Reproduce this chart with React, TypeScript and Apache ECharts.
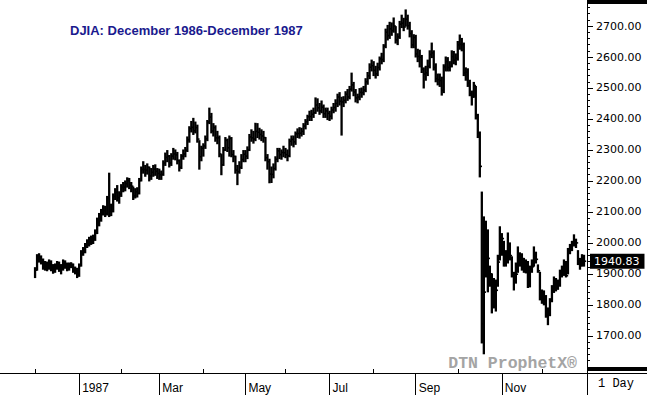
import React, { useEffect, useRef } from 'react';
import * as echarts from 'echarts';

// Exchange holidays (no trading bar)
const holidays = ['1986-12-25', '1987-01-01', '1987-02-16', '1987-04-17', '1987-05-25', '1987-07-03', '1987-09-07', '1987-11-26', '1987-12-25'];

// Daily highs, Dec 1 1986 .. Dec 31 1987 (275 trading days)
const highs = [
  // Dec 1986
  1920, 1962, 1965, 1958, 1948, 1940, 1938, 1945, 1942, 1930, 1932, 1940, 1938, 1930, 1945, 1942, 1935, 1935, 1936, 1932, 1922, 1918,
  // Jan
  1932, 1975, 1985, 1998, 2010, 2018, 2022, 2025, 2042, 2080, 2095, 2108, 2120, 2118, 2150, 2225, 2125, 2158, 2175, 2185, 2165,
  // Feb
  2188, 2195, 2200, 2210, 2208, 2195, 2180, 2175, 2178, 2208, 2245, 2262, 2250, 2255, 2245, 2240, 2250, 2252, 2240,
  // Mar
  2238, 2232, 2265, 2290, 2298, 2282, 2288, 2305, 2300, 2292, 2268, 2285, 2300, 2308, 2342, 2375, 2392, 2402, 2390, 2380, 2330, 2312,
  // Apr
  2320, 2345, 2395, 2435, 2418, 2385, 2378, 2360, 2345, 2285, 2308, 2340, 2335, 2345, 2340, 2298, 2280, 2250, 2262, 2285, 2298,
  // May
  2298, 2310, 2350, 2365, 2360, 2386, 2385, 2370, 2365, 2360, 2340, 2285, 2270, 2245, 2255, 2278, 2305, 2305, 2300, 2312,
  // Jun
  2305, 2300, 2335, 2345, 2345, 2358, 2368, 2372, 2370, 2385, 2398, 2412, 2425, 2428, 2435, 2468, 2465, 2450, 2458, 2445, 2435, 2435,
  // Jul
  2425, 2438, 2450, 2462, 2480, 2485, 2470, 2472, 2488, 2495, 2505, 2548, 2518, 2495, 2480, 2498, 2500, 2505, 2530, 2550, 2578, 2590,
  // Aug
  2585, 2570, 2580, 2600, 2612, 2640, 2690, 2702, 2712, 2710, 2726, 2698, 2675, 2715, 2735, 2725, 2752, 2735, 2712, 2685, 2672,
  // Sep
  2670, 2625, 2622, 2605, 2565, 2570, 2590, 2620, 2645, 2620, 2578, 2545, 2545, 2535, 2575, 2600, 2598, 2585, 2620, 2618, 2610,
  // Oct
  2650, 2671, 2660, 2645, 2565, 2562, 2525, 2490, 2518, 2505, 2415, 2358, 2164, 2084, 2070, 2042, 1925, 1900, 1885, 1880, 1960, 2052,
  // Nov
  2030, 2005, 1975, 2032, 2000, 1955, 1905, 1935, 1987, 1968, 1965, 1950, 1945, 1940, 1925, 1945, 1987, 1970, 1929, 1905,
  // Dec
  1848, 1845, 1830, 1790, 1820, 1862, 1890, 1885, 1880, 1912, 1925, 1945, 1940, 1982, 1995, 2005, 2026, 2012, 1975, 1950, 1962, 1960,
];

const lows = [
  // Dec 1986
  1888, 1912, 1938, 1932, 1915, 1912, 1910, 1915, 1910, 1902, 1905, 1915, 1908, 1900, 1912, 1918, 1910, 1912, 1920, 1905, 1900, 1888,
  // Jan
  1892, 1925, 1960, 1968, 1985, 1990, 1995, 1998, 2008, 2030, 2055, 2070, 2090, 2085, 2090, 2085, 2088, 2100, 2140, 2135, 2128,
  // Feb
  2150, 2165, 2168, 2180, 2175, 2165, 2140, 2145, 2148, 2158, 2200, 2225, 2215, 2222, 2200, 2205, 2215, 2218, 2208,
  // Mar
  2205, 2205, 2218, 2250, 2262, 2245, 2250, 2270, 2268, 2255, 2232, 2240, 2270, 2278, 2295, 2325, 2358, 2350, 2355, 2325, 2238, 2265,
  // Apr
  2280, 2305, 2330, 2385, 2355, 2345, 2328, 2320, 2278, 2220, 2250, 2298, 2295, 2280, 2278, 2262, 2225, 2188, 2225, 2240, 2262,
  // May
  2262, 2272, 2298, 2328, 2322, 2330, 2340, 2335, 2330, 2325, 2265, 2238, 2194, 2195, 2210, 2235, 2262, 2272, 2270, 2278,
  // Jun
  2275, 2265, 2278, 2315, 2310, 2318, 2340, 2338, 2345, 2350, 2368, 2382, 2395, 2395, 2405, 2418, 2425, 2415, 2420, 2405, 2405, 2398,
  // Jul
  2395, 2400, 2420, 2425, 2440, 2445, 2348, 2440, 2452, 2460, 2465, 2490, 2475, 2455, 2452, 2462, 2470, 2478, 2488, 2512, 2530, 2555,
  // Aug
  2540, 2532, 2540, 2558, 2578, 2585, 2630, 2655, 2660, 2670, 2680, 2645, 2640, 2660, 2695, 2685, 2700, 2690, 2665, 2630, 2630,
  // Sep
  2600, 2585, 2568, 2550, 2500, 2525, 2540, 2565, 2598, 2558, 2520, 2510, 2505, 2477, 2485, 2555, 2555, 2555, 2568, 2578, 2575,
  // Oct
  2590, 2625, 2620, 2540, 2525, 2505, 2475, 2445, 2470, 2400, 2340, 2213, 1677, 1642, 1890, 1842, 1860, 1774, 1790, 1780, 1860, 1945,
  // Nov
  1960, 1925, 1925, 1935, 1945, 1890, 1848, 1870, 1905, 1925, 1912, 1905, 1903, 1856, 1858, 1905, 1925, 1935, 1905, 1816,
  // Dec
  1805, 1800, 1760, 1736, 1765, 1810, 1840, 1845, 1850, 1860, 1890, 1895, 1890, 1900, 1965, 1975, 1990, 1985, 1930, 1915, 1925, 1925,
];

const closes = [
  // Dec 1986
  1912, 1955, 1947, 1944, 1922, 1928, 1925, 1935, 1919, 1912, 1922, 1933, 1918, 1917, 1937, 1928, 1917, 1929, 1930, 1912, 1910, 1896,
  // Jan
  1927, 1971, 1975, 1994, 2002, 2006, 2009, 2013, 2035, 2071, 2077, 2102, 2104, 2095, 2146, 2102, 2102, 2150, 2163, 2146, 2158,
  // Feb
  2179, 2180, 2191, 2201, 2186, 2183, 2152, 2165, 2160, 2201, 2237, 2237, 2235, 2244, 2216, 2228, 2238, 2231, 2224,
  // Mar
  2220, 2221, 2258, 2276, 2280, 2258, 2280, 2287, 2284, 2265, 2244, 2280, 2287, 2299, 2333, 2369, 2373, 2362, 2372, 2335, 2278, 2305,
  // Apr
  2313, 2336, 2390, 2406, 2361, 2372, 2339, 2339, 2287, 2252, 2300, 2331, 2307, 2337, 2285, 2279, 2235, 2230, 2244, 2269, 2286,
  // May
  2280, 2300, 2342, 2339, 2335, 2360, 2357, 2350, 2345, 2340, 2275, 2262, 2222, 2221, 2240, 2270, 2297, 2285, 2292, 2291,
  // Jun
  2285, 2281, 2328, 2334, 2326, 2352, 2353, 2354, 2360, 2377, 2391, 2407, 2408, 2415, 2420, 2445, 2436, 2426, 2438, 2417, 2426, 2418,
  // Jul
  2409, 2429, 2437, 2450, 2471, 2457, 2455, 2460, 2480, 2471, 2496, 2510, 2487, 2468, 2471, 2486, 2485, 2493, 2520, 2539, 2567, 2572,
  // Aug
  2557, 2546, 2566, 2594, 2592, 2635, 2680, 2669, 2691, 2685, 2700, 2655, 2665, 2706, 2709, 2697, 2722, 2701, 2676, 2639, 2663,
  // Sep
  2610, 2602, 2599, 2561, 2545, 2549, 2570, 2608, 2613, 2566, 2530, 2527, 2524, 2492, 2568, 2585, 2566, 2570, 2601, 2590, 2596,
  // Oct
  2639, 2641, 2640, 2549, 2551, 2516, 2482, 2471, 2508, 2413, 2355, 2247, 1739, 1841, 2030, 1950, 1900, 1794, 1846, 1847, 1938, 1994,
  // Nov
  2014, 1964, 1945, 1985, 1959, 1900, 1878, 1899, 1960, 1935, 1949, 1922, 1939, 1895, 1914, 1923, 1963, 1947, 1910, 1834,
  // Dec
  1827, 1824, 1777, 1767, 1812, 1855, 1880, 1855, 1867, 1908, 1902, 1929, 1894, 1975, 1990, 1999, 2006, 2000, 1943, 1927, 1950, 1940.83,
];

const yTickValues = [1700, 1800, 1900, 2000, 2100, 2200, 2300, 2400, 2500, 2600, 2700];
const monthLabels: Record<string, string> = {
  '1987-01': '1987', '1987-03': 'Mar', '1987-05': 'May', '1987-07': 'Jul', '1987-09': 'Sep', '1987-11': 'Nov',
};
const minorMonths = ['1986-12', '1987-02', '1987-04', '1987-06', '1987-08', '1987-10', '1987-12'];
const titleText = 'DJIA: December 1986-December 1987';
const watermarkText = 'DTN ProphetX®';
const periodText = '1 Day';
const lastPriceLabel = '1940.83';

const PAD_BEFORE = 17;
const PAD_AFTER = 1;

function tradingDays(): string[] {
  const out: string[] = [];
  const d = new Date(Date.UTC(1986, 11, 1));
  const end = Date.UTC(1987, 11, 31);
  while (d.getTime() <= end) {
    const wd = d.getUTCDay();
    const s = d.toISOString().slice(0, 10);
    if (wd !== 0 && wd !== 6 && holidays.indexOf(s) < 0) out.push(s);
    d.setUTCDate(d.getUTCDate() + 1);
  }
  return out;
}

export default function App() {
  const ref = useRef<HTMLDivElement>(null);
  useEffect(() => {
    if (!ref.current) return;
    const chart = echarts.init(ref.current, null, { renderer: 'svg' });
    const dates = tradingDays();
    const categories: string[] = [];
    for (let k = 0; k < PAD_BEFORE; k++) categories.push('p' + k);
    dates.forEach((d) => categories.push(d));
    for (let k = 0; k < PAD_AFTER; k++) categories.push('q' + k);

    const monthOf = (v: string) => (v && v.length >= 7 ? v.slice(0, 7) : '');
    const isMonthStart = (idx: number) => {
      const v = categories[idx];
      if (!v || v[0] === 'p' || v[0] === 'q') return false;
      const prev = categories[idx - 1];
      if (!prev || prev[0] === 'p') return true;
      return monthOf(prev) !== monthOf(v);
    };

    const n = Math.min(dates.length, closes.length, highs.length, lows.length);
    const data: number[][] = [];
    for (let i = 0; i < n; i++) data.push([i + PAD_BEFORE, highs[i], lows[i], closes[i]]);

    const font = 'DejaVu Sans';
    chart.setOption({
      animation: false,
      backgroundColor: '#fff',
      grid: { left: 0, right: 60, top: 0, bottom: 22, containLabel: false, outerBoundsMode: 'none' },
      xAxis: [
        {
          type: 'category',
          data: categories,
          boundaryGap: true,
          position: 'bottom',
          axisLine: { show: true, lineStyle: { color: '#000', width: 1 } },
          axisTick: {
            show: true, inside: true, length: 4, alignWithLabel: true,
            interval: (idx: number, v: string) => isMonthStart(idx) && minorMonths.indexOf(monthOf(v)) >= 0,
            lineStyle: { color: '#000', width: 1 },
          },
          axisLabel: { show: false },
          splitLine: { show: false },
        },
        {
          type: 'category',
          data: categories,
          boundaryGap: true,
          position: 'bottom',
          axisLine: { show: false },
          axisTick: {
            show: true, inside: false, length: 22, alignWithLabel: true,
            interval: (idx: number, v: string) => isMonthStart(idx) && !!monthLabels[monthOf(v)],
            lineStyle: { color: '#000', width: 1 },
          },
          axisLabel: {
            show: true,
            interval: (idx: number, v: string) => isMonthStart(idx) && !!monthLabels[monthOf(v)],
            formatter: (v: string) => monthLabels[monthOf(v)] || '',
            align: 'left',
            padding: [0, 0, 0, 3],
            margin: 9,
            color: '#000',
            fontFamily: 'Liberation Sans',
            fontSize: 12,
          },
          splitLine: { show: false },
        },
      ],
      yAxis: [
        {
          type: 'value',
          position: 'right',
          min: 1580,
          max: 2784,
          interval: 20,
          axisLine: { show: true, lineStyle: { color: '#000', width: 1 } },
          axisTick: { show: true, length: 3, lineStyle: { color: '#000', width: 1 } },
          axisLabel: { show: false },
          splitLine: { show: false },
        },
        {
          type: 'value',
          position: 'right',
          min: 1580,
          max: 2784,
          axisLine: { show: false },
          axisTick: { show: true, length: 6, customValues: yTickValues, lineStyle: { color: '#000', width: 1 } },
          axisLabel: {
            show: true,
            customValues: yTickValues,
            formatter: (v: number) => v.toFixed(2),
            margin: 9,
            color: '#000',
            fontFamily: font,
            fontSize: 11,
          },
          splitLine: { show: false },
        },
      ],
      series: [
        {
          type: 'custom',
          xAxisIndex: 0,
          yAxisIndex: 0,
          data,
          encode: { x: 0, y: [1, 2, 3] },
          renderItem: (_params: any, api: any) => {
            const x = api.value(0);
            const hi = api.coord([x, api.value(1)]);
            const lo = api.coord([x, api.value(2)]);
            const cl = api.coord([x, api.value(3)]);
            return {
              type: 'group',
              children: [
                { type: 'line', shape: { x1: hi[0], y1: hi[1] - 0.5, x2: lo[0], y2: lo[1] + 0.5 }, style: { stroke: '#000', lineWidth: 2.3 } },
                { type: 'line', shape: { x1: cl[0], y1: cl[1], x2: cl[0] + 2.2, y2: cl[1] }, style: { stroke: '#000', lineWidth: 1.6 } },
              ],
            };
          },
          markLine: {
            silent: true,
            symbol: ['none', 'none'],
            lineStyle: { color: 'rgba(0,0,0,0)', width: 0 },
            label: {
              show: true,
              position: 'end',
              formatter: lastPriceLabel,
              color: '#fff',
              backgroundColor: '#000',
              fontFamily: font,
              fontSize: 11,
              padding: [2, 5, 2, 4],
              distance: 3,
            },
            data: [{ yAxis: closes[closes.length - 1] }],
          },
        },
      ],
      graphic: [
        {
          type: 'text', x: 70, y: 30, silent: true,
          style: {
            text: titleText, fill: '#1a1a8e', font: 'bold 13px "Liberation Sans"',
            align: 'left', textAlign: 'left', verticalAlign: 'middle', textVerticalAlign: 'middle',
          },
        },
        {
          type: 'text', x: 577, y: 363, silent: true,
          style: {
            text: watermarkText, fill: '#a4a4a4', font: 'bold 16.5px "Liberation Mono"',
            align: 'right', textAlign: 'right', verticalAlign: 'middle', textVerticalAlign: 'middle',
          },
        },
        {
          type: 'text', x: 598, y: 384, silent: true,
          style: {
            text: periodText, fill: '#000', font: '12px "Liberation Mono"',
            align: 'left', textAlign: 'left', verticalAlign: 'middle', textVerticalAlign: 'middle',
          },
        },
        { type: 'rect', silent: true, shape: { x: 588, y: 0, width: 59, height: 4 }, style: { fill: '#000' } },
        { type: 'rect', silent: true, shape: { x: 588, y: 367, width: 59, height: 4 }, style: { fill: '#000' } },
        { type: 'line', silent: true, shape: { x1: 587, y1: 373.5, x2: 647, y2: 373.5 }, style: { stroke: '#000', lineWidth: 1 } },
        { type: 'line', silent: true, shape: { x1: 587.5, y1: 373, x2: 587.5, y2: 395 }, style: { stroke: '#000', lineWidth: 1 } },
      ],
    });
    return () => chart.dispose();
  }, []);
  return <div ref={ref} style={{ position: 'fixed', left: 0, top: 0, width: 647, height: 395 }} />;
}
